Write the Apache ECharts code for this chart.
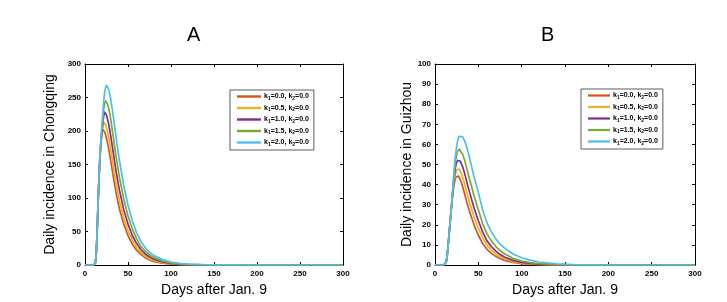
<!DOCTYPE html>
<html>
<head>
<meta charset="utf-8">
<script src="https://cdn.jsdelivr.net/npm/echarts@6/dist/echarts.min.js"></script>
<style>html,body{margin:0;padding:0;background:#fff}#c{width:727px;height:302px}</style>
</head>
<body>
<div id="c"></div>
<script>
// ---- data ----
var days = [0,5,10,11,12,13,14,15,16,17,18,19,20,21,22,23,24,25,26,27,28,29,30,32,34,36,38,40,45,50,55,60,65,70,75,80,90,100,110,120,140,160,200,250,300];
var seriesNames = ['k1=0.0, k2=0.0','k1=0.5, k2=0.0','k1=1.0, k2=0.0','k1=1.5, k2=0.0','k1=2.0, k2=0.0'];
var panelTitles = ['A','B'];
var yAxisNames = ['Daily incidence in Chongqing','Daily incidence in Guizhou'];
var xAxisName = 'Days after Jan. 9';

// Chongqing (panel A)
var cq_k1_00 = [0,0,0,0.5,3,15,45,85,120,150,172,188, 198,202,201,198,194,189,183,177,170,163,155, 139,123,109,96,84, 61,44,31,22,16,11,7.5,5, 2.8,1.4,0.7,0.35,0.08,0,0,0,0];
var cq_k1_05 = [0,0,0,0.5,3,15,45,85,120,150,172,189, 201,208,213,212,209,205,200,194,187,180,172, 155,138,122,108,96, 71,51,37,26,18.5,13,9,6.5, 3.6,1.8,0.9,0.45,0.1,0,0,0,0];
var cq_k1_10 = [0,0,0,0.5,3,15,45,85,120,151,174,191, 204,216,224,228,227,224,219,213,207,200,192, 175,158,141,126,112, 83,61,44,32,23,16.5,12,8.5, 4.6,2.3,1.2,0.6,0.15,0,0,0,0];
var cq_k1_15 = [0,0,0,0.5,3,15,45,85,121,152,176,194, 208,223,235,242,245,244,241,236,231,224,217, 199,181,163,147,131, 99,73,54,39,28,20.5,15,11, 6,3.2,1.7,0.9,0.25,0.05,0,0,0];
var cq_k1_20 = [0,0,0,0.5,3,15,45,85,121,153,178,197, 213,232,248,259,265,268,267,264,260,254,247, 230,211,192,173,156, 119,89,66,48,35,26,19,14, 8,4.5,2.5,1.3,0.4,0.1,0,0,0];

// Guizhou (panel B)
var gz_k1_00 = [0,0,0,0.1,0.4,1.5,4.5,9,14,19,24,29, 33,37,40,42,43.8,44.4,44.5,44.2,43.5,42.6,41.5, 38.8,35.6,32.4,29.4,26.5, 20,14.8,10.7,7.8,5.8,4.3,3.2,2.3, 1.25,0.65,0.35,0.18,0.05,0,0,0,0];
var gz_k1_05 = [0,0,0,0.1,0.4,1.5,4.5,9,14,19,24,29, 33.5,38,41.5,44,46,47.3,47.9,48,47.7,47,46, 43.6,40.5,37.2,34,31, 24,18.3,13.7,10,7.5,5.6,4.2,3.1, 1.7,0.95,0.5,0.27,0.08,0,0,0,0];
var gz_k1_10 = [0,0,0,0.1,0.4,1.5,4.5,9,14,19,24,29, 34,39,43.5,47,49.5,51,52,52.4,52.2,51.7,51, 48.8,45.9,42.6,39.2,36, 28.5,22,16.5,12,9.2,7,5.3,4, 2.3,1.3,0.75,0.4,0.12,0,0,0,0];
var gz_k1_15 = [0,0,0,0.1,0.4,1.5,4.5,9,14,19,24,29, 34.5,40,45,49,52.5,55,56.5,57.3,57.6,57.3,56.8, 55,52.4,49.2,45.8,42.5, 34.5,27.5,20.5,15.5,12,9.3,7.2,5.6, 3.3,2,1.2,0.7,0.25,0.08,0,0,0];
var gz_k1_20 = [0,0,0,0.1,0.4,1.5,4.5,9,14,19,24,29, 35,41,47,52,56,59,61.5,63,64,64.4,64.5, 63.8,62,59.5,56.5,53, 44,36,27.5,21,16.5,13,10.5,8.5, 5.5,3.6,2.4,1.5,0.6,0.2,0,0,0];

var cqSeries = [cq_k1_00, cq_k1_05, cq_k1_10, cq_k1_15, cq_k1_20];
var gzSeries = [gz_k1_00, gz_k1_05, gz_k1_10, gz_k1_15, gz_k1_20];
var yMax = [300, 100];
var yInterval = [50, 10];

// ---- styling ----
var colors = ['#D95319','#EDB120','#7E2F8E','#77AC30','#4DBEEE'];
var FONT = 'Liberation Sans, Arial, sans-serif';
var grids = [
  {left: 85, right: 384, top: 64, bottom: 35},
  {left: 435, right: 32, top: 64, bottom: 35}
];

function pairs(arr){ return days.map(function(d,i){ return [d, arr[i]]; }); }

var tickLbl = {fontSize: 8, fontWeight: 'bold', color: '#000', fontFamily: FONT};
var xAxes = [], yAxes = [], series = [], legends = [], titles = [];
[0,1].forEach(function(p){
  xAxes.push({gridIndex: p, type: 'value', min: 0, max: 300, interval: 50, position: 'bottom',
    axisLine: {onZero: false, lineStyle: {color: '#000', width: 1}},
    axisTick: {inside: true, length: 3, lineStyle: {color: '#000'}},
    axisLabel: Object.assign({margin: 5}, tickLbl),
    splitLine: {show: false},
    name: xAxisName, nameLocation: 'middle', nameGap: 18,
    nameTextStyle: {fontSize: 14, color: '#000', fontFamily: FONT}});
  xAxes.push({gridIndex: p, type: 'value', min: 0, max: 300, interval: 50, position: 'top',
    axisLine: {onZero: false, lineStyle: {color: '#000', width: 1}},
    axisTick: {inside: true, length: 3, lineStyle: {color: '#000'}},
    axisLabel: {show: false}, splitLine: {show: false}});
  yAxes.push({gridIndex: p, type: 'value', min: 0, max: yMax[p], interval: yInterval[p], position: 'left',
    axisLine: {onZero: false, lineStyle: {color: '#000', width: 1}},
    axisTick: {inside: true, length: 3, lineStyle: {color: '#000'}},
    axisLabel: Object.assign({margin: 4}, tickLbl),
    splitLine: {show: false},
    name: yAxisNames[p], nameLocation: 'middle', nameGap: p === 0 ? 28 : 21,
    nameTextStyle: {fontSize: 14, color: '#000', fontFamily: FONT}});
  yAxes.push({gridIndex: p, type: 'value', min: 0, max: yMax[p], interval: yInterval[p], position: 'right',
    axisLine: {onZero: false, lineStyle: {color: '#000', width: 1}},
    axisTick: {inside: true, length: 3, lineStyle: {color: '#000'}},
    axisLabel: {show: false}, splitLine: {show: false}});
  var src = p === 0 ? cqSeries : gzSeries;
  src.forEach(function(arr, i){
    series.push({type: 'line', name: seriesNames[i], xAxisIndex: p*2, yAxisIndex: p*2,
      data: pairs(arr), showSymbol: false, smooth: false,
      lineStyle: {width: 1.7, color: colors[i], join: 'round'}, itemStyle: {color: colors[i]},
      clip: true, silent: true, animation: false});
  });
});

function legendFmt(name){
  var m = name.match(/k1=([\d.]+), k2=([\d.]+)/);
  return '{n|k}{s|1}{n|=' + m[1] + ', k}{s|2}{n|=' + m[2] + '}';
}
var legendRich = {
  n: {fontSize: 7, fontWeight: 'bold', fontFamily: FONT, color: '#000', lineHeight: 10},
  s: {fontSize: 5, fontWeight: 'bold', fontFamily: FONT, color: '#000', lineHeight: 10, padding: [4,0,0,0]}
};
var legendPos = [{left: 230, top: 90, w: 24}, {left: 581, top: 89, w: 22}];
[0,1].forEach(function(p){
  legends.push({data: seriesNames, orient: 'vertical', left: legendPos[p].left, top: legendPos[p].top,
    padding: [2, 5, 3, 7], itemGap: 2.5, itemWidth: legendPos[p].w, itemHeight: 9.5,
    borderColor: '#333', borderWidth: 0.8, backgroundColor: '#fff',
    icon: 'path://M0,0 L10,0 L10,1 L0,1 Z',
    selectedMode: false, formatter: legendFmt,
    textStyle: {rich: legendRich, padding: [0,0,0,-2]}});
});
titles.push({text: panelTitles[0], left: 187, top: 25, textStyle: {fontSize: 20, fontWeight: 'normal', color: '#000', fontFamily: FONT}});
titles.push({text: panelTitles[1], left: 541, top: 25, textStyle: {fontSize: 20, fontWeight: 'normal', color: '#000', fontFamily: FONT}});

var chart = echarts.init(document.getElementById('c'), null, {renderer: 'canvas'});
chart.setOption({
  animation: false,
  color: colors,
  title: titles.map(function(t){ t.padding = 0; return t; }),
  grid: grids,
  xAxis: xAxes,
  yAxis: yAxes,
  legend: legends,
  series: series
});
</script>
</body>
</html>
